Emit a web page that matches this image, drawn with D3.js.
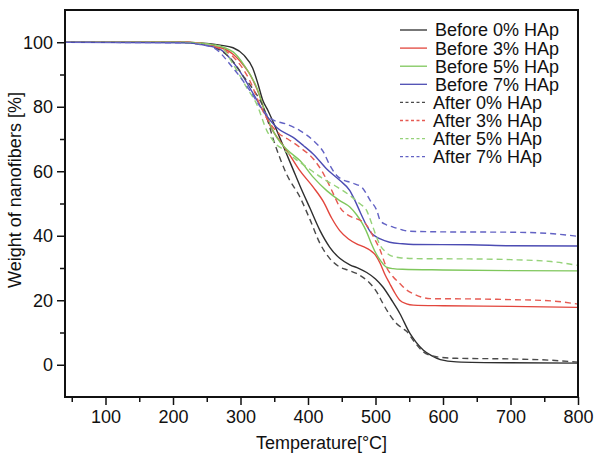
<!DOCTYPE html>
<html><head><meta charset="utf-8">
<script src="https://cdn.jsdelivr.net/npm/d3@7"></script>
<style>body{margin:0;background:#fff;} svg{display:block;} text{font-family:"Liberation Sans",Arial,sans-serif;}</style>
</head><body>
<script>
const seriesNames = ["Before 0% HAp","Before 3% HAp","Before 5% HAp","Before 7% HAp","After 0% HAp","After 3% HAp","After 5% HAp","After 7% HAp"];
const seriesColors = ["#2e2e2e","#e2463d","#7fc75c","#4c4cb3","#4a4a4a","#e65a52","#95d279","#6262c4"];
const seriesDashed = [false,false,false,false,true,true,true,true];

const before0 = [[40,100],[200,100],[250,99.6],[270,99.1],[289,98.3],[305,96],[318,92],[326,87],[333,82],[341,78.7],[350,74.5],[358,70.5],[368,65.5],[378,60.5],[388,55.5],[403,48.5],[418,41.5],[432,36.5],[447,33],[462,31],[475,29.9],[487,28.6],[500,26.6],[511,24.1],[524,20],[536,15.9],[551,9.7],[560,7],[571,4.5],[583,2.8],[596,1.6],[620,0.9],[700,0.6],[800,0.5]];
const before3 = [[40,100],[220,100],[260,99],[289,96.3],[300,94],[314,90],[329,83],[338.5,76.7],[348,72.5],[358,69.5],[373,65],[388,60.2],[408,55],[423,50.5],[435,45.5],[447,41.6],[460,39],[472,37.5],[482,36.6],[492,35.5],[500,34],[507,31.4],[514,28],[521,25.2],[528,22.5],[536,20],[546,18.9],[556,18.5],[600,18.3],[700,18.1],[800,17.8]];
const before5 = [[40,100],[220,100],[260,99.2],[289,97],[305,93],[324,86],[336,78.8],[345,74],[353.6,70.5],[370,66.5],[388,63.3],[408,58.1],[427.7,54],[447,50.9],[462,48.9],[472,46.5],[480,44],[486,41.6],[493,38],[500,34.8],[507,32.4],[516,30.3],[526,29.8],[540,29.6],[600,29.4],[700,29.2],[800,29.1]];
const before7 = [[40,100],[220,99.8],[250,99],[270,97.8],[299,91],[319,84],[333.5,78.8],[353.6,73.6],[378,70.5],[393,68],[408,65.3],[427.7,60.7],[447.4,57.1],[462,54],[469.6,50.9],[478,47],[486,43.5],[494,40.8],[500,39.8],[507,39],[521,38],[540,37.5],[556,37.3],[640,37.2],[700,36.9],[800,36.8]];
const after0 = [[40,100],[200,100],[240,99.4],[260,98.5],[285,95],[306,89],[320,85],[334,79.8],[350,69],[368,59.2],[388,52],[403,45],[418,37.5],[432,33],[447,30.3],[460,29.3],[472,28.3],[482,27],[492,25.2],[502,22.5],[511,19],[521,15.5],[531,12.8],[540,11.3],[546,10.4],[558,7],[571,4],[583,2.8],[596,2.3],[620,2.0],[700,1.8],[760,1.4],[800,0.8]];
const after3 = [[40,100],[220,100],[255,99],[289,95.5],[314,88],[330,80],[345,74.5],[358,71.5],[370,70],[388,67.4],[408,63.8],[423,59.2],[437.6,53],[447,48.9],[460,46.3],[475,45],[484,44],[492,41.6],[500,38.5],[507,35.5],[516,30.3],[526,27.3],[536,25.2],[546,23.2],[556,22],[568,21],[581,20.5],[650,20.4],[700,20.2],[760,19.8],[800,18.8]];
const after5 = [[40,100],[200,100],[240,99.6],[270,98.7],[289,93.2],[309,86],[324,80.8],[339,72.6],[350,69],[365,66.5],[380,64],[400,61],[420,58],[440,55.5],[462,52.5],[477,49.9],[487,47.8],[494,44],[500,40.5],[507,37],[514,35.2],[521,34],[536,33.2],[561,32.9],[650,32.8],[700,32.6],[760,32],[800,30.8]];
const after7 = [[40,100],[220,99.8],[240,99.3],[260,98.3],[289,92],[314,85],[333.5,78.8],[346,76.2],[368,74.6],[388,72.6],[408,69.5],[423,65.9],[432,62],[442.5,58.7],[452,57.3],[462,56.6],[470,56],[480,55],[492,51],[502,47.8],[507,44.7],[516,43.4],[526,42.7],[540,41.8],[551,41.4],[600,41.2],[700,41.1],[740,40.9],[770,40.5],[800,39.8]];
const seriesData = [before0,before3,before5,before7,after0,after3,after5,after7];

const xMajorTicks = [100,200,300,400,500,600,700,800];
const xMinorTicks = [50,150,250,350,450,550,650,750];
const yMajorTicks = [0,20,40,60,80,100];
const yMinorTicks = [10,30,50,70,90];
const xDomain = [40,800];
const yDomain = [-10,110];
const xTitle = "Temperature[°C]";
const yTitle = "Weight of nanofibers [%]";

const W = 602, H = 461;
const m = {left:65, right:24, top:10, bottom:64};
const svg = d3.select("body").append("svg").attr("width",W).attr("height",H);
const x = d3.scaleLinear().domain(xDomain).range([m.left, W-m.right]);
const y = d3.scaleLinear().domain(yDomain).range([H-m.bottom, m.top]);

const line = d3.line().x(d=>x(d[0])).y(d=>y(d[1])).curve(d3.curveMonotoneX);
const plot = svg.append("g");
seriesData.forEach((s,i)=>{
  plot.append("path").datum(s).attr("d",line).attr("fill","none")
    .attr("stroke",seriesColors[i]).attr("stroke-width",1.4)
    .attr("stroke-dasharray",seriesDashed[i]?"6,4":null);
});

// axes
svg.append("g").attr("transform",`translate(0,${H-m.bottom})`)
  .call(d3.axisBottom(x).tickValues(xMajorTicks).tickSize(8).tickPadding(5).tickFormat(d3.format("d")));
svg.append("g").attr("transform",`translate(0,${H-m.bottom})`)
  .call(d3.axisBottom(x).tickValues(xMinorTicks).tickSize(5).tickFormat(""));
svg.append("g").attr("transform",`translate(${m.left},0)`)
  .call(d3.axisLeft(y).tickValues(yMajorTicks).tickSize(8).tickPadding(4).tickFormat(d3.format("d")));
svg.append("g").attr("transform",`translate(${m.left},0)`)
  .call(d3.axisLeft(y).tickValues(yMinorTicks).tickSize(5).tickFormat(""));
svg.selectAll(".tick line").attr("stroke","#111").attr("stroke-width",1.5);
svg.selectAll(".tick text").attr("font-size",18).attr("fill","#111").attr("font-family","Liberation Sans, Arial, sans-serif");
svg.selectAll(".domain").remove();
// frame
svg.append("rect").attr("x",x(xDomain[0])).attr("y",y(yDomain[1]))
  .attr("width",x(xDomain[1])-x(xDomain[0])).attr("height",y(yDomain[0])-y(yDomain[1]))
  .attr("fill","none").attr("stroke","#111").attr("stroke-width",2);

// titles
svg.append("text").attr("x",(x(xDomain[0])+x(xDomain[1]))/2).attr("y",449)
  .attr("text-anchor","middle").attr("font-size",18).attr("fill","#111").text(xTitle);
svg.append("text").attr("transform",`translate(21,190) rotate(-90)`)
  .attr("text-anchor","middle").attr("font-size",18).attr("fill","#111").text(yTitle);

// legend
const lg = svg.append("g");
seriesNames.forEach((n,i)=>{
  const cy = 30 + i*18.1;
  lg.append("line").attr("x1",400).attr("x2",427).attr("y1",cy).attr("y2",cy)
    .attr("stroke",seriesColors[i]).attr("stroke-width",1.3)
    .attr("stroke-dasharray",seriesDashed[i]?"3,2.5":null);
  lg.append("text").attr("x",seriesDashed[i]?433:435).attr("y",cy).attr("dy","0.36em")
    .attr("font-size",18).attr("fill","#111").text(n);
});
</script>
</body></html>
